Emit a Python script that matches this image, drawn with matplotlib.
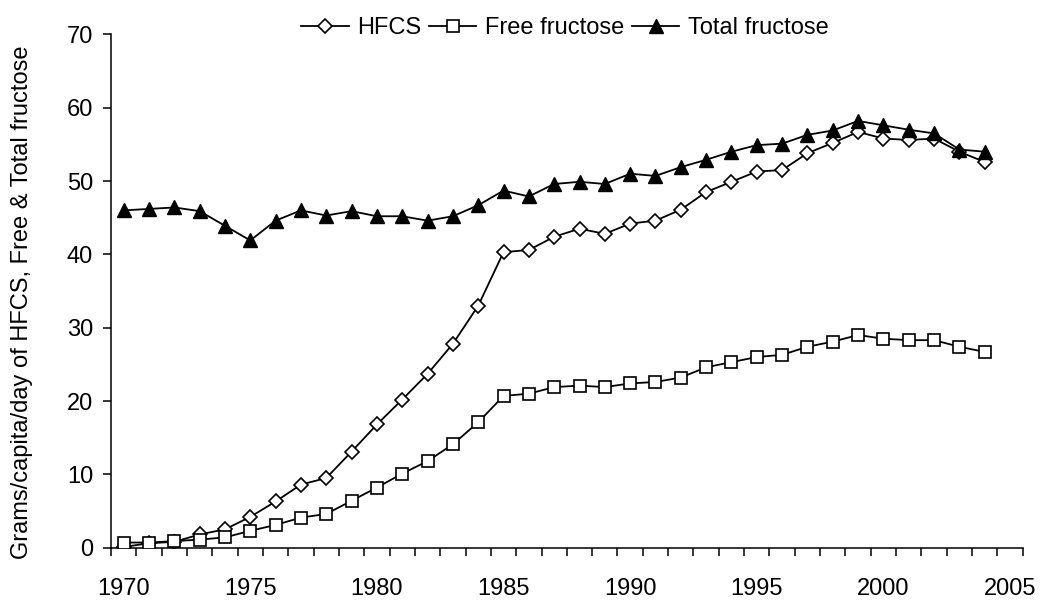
import numpy as np
import matplotlib.pyplot as plt
from matplotlib.ticker import MultipleLocator, FixedLocator

plt.rcParams['font.family'] = ['Liberation Sans', 'DejaVu Sans']

# data (grams/capita/day)
years = np.arange(1970, 2005)
hfcs = [0.1, 0.6, 0.8, 1.8, 2.5, 4.2, 6.3, 8.6, 9.5, 13.1,
        16.8, 20.2, 23.7, 27.8, 33.0, 40.3, 40.6, 42.4, 43.5, 42.8,
        44.2, 44.6, 46.1, 48.5, 49.9, 51.3, 51.5, 53.8, 55.2, 56.7,
        55.8, 55.6, 55.8, 54.0, 52.6]
free_fructose = [0.7, 0.7, 0.9, 1.1, 1.4, 2.3, 3.1, 4.1, 4.6, 6.4,
                 8.2, 10.1, 11.8, 14.1, 17.1, 20.7, 21.0, 21.9, 22.1, 21.9,
                 22.4, 22.6, 23.2, 24.6, 25.3, 26.0, 26.3, 27.4, 28.1, 29.0,
                 28.5, 28.3, 28.3, 27.4, 26.7]
total_fructose = [46.0, 46.2, 46.4, 45.9, 43.9, 41.9, 44.6, 46.0, 45.3, 45.9,
                  45.2, 45.2, 44.6, 45.2, 46.7, 48.7, 47.9, 49.6, 49.9, 49.6,
                  51.0, 50.7, 51.9, 52.9, 54.0, 54.9, 55.1, 56.3, 56.9, 58.2,
                  57.6, 57.0, 56.5, 54.3, 54.0]

fig = plt.figure(figsize=(10.5, 6.09), dpi=100)
ax = fig.add_axes([0.1057, 0.1007, 0.974 - 0.1057, 0.9435 - 0.1007])

lw = 1.3
ax.plot(years, hfcs, color='black', lw=lw, marker='D', ms=7.5,
        mfc='white', mec='black', mew=1.2, label='HFCS', zorder=3)
ax.plot(years, free_fructose, color='black', lw=lw, marker='s', ms=8,
        mfc='white', mec='black', mew=1.2, label='Free fructose', zorder=3)
ax.plot(years, total_fructose, color='black', lw=lw, marker='^', ms=9.5,
        mfc='black', mec='black', label='Total fructose', zorder=4)

ax.set_xlim(1969.5, 2005.5)
ax.set_ylim(0, 70)
ax.yaxis.set_major_locator(MultipleLocator(10))
ax.xaxis.set_major_locator(FixedLocator(np.arange(1970, 2006, 5)))
ax.xaxis.set_minor_locator(FixedLocator(np.arange(1969.5, 2006, 1)))

for s in ['top', 'right']:
    ax.spines[s].set_visible(False)
for s in ['left', 'bottom']:
    ax.spines[s].set_linewidth(1.1)

ax.tick_params(axis='x', which='major', length=0, pad=22, labelsize=17)
ax.tick_params(axis='x', which='minor', length=5.8, width=1.1, direction='out')
ax.tick_params(axis='y', which='major', length=5.8, width=1.1, direction='out',
               pad=7, labelsize=17)

fig.text(22 / 1050, 1 - 302 / 609, 'Grams/capita/day of HFCS, Free & Total fructose',
         rotation=90, ha='center', va='center', fontsize=17)

fig.legend(loc='center', bbox_to_anchor=(0.538, 0.954), ncol=3, frameon=False,
           fontsize=17, handlelength=2.0, handletextpad=0.35, columnspacing=0.35,
           borderpad=0)

fig.savefig('out.png', dpi=100)
